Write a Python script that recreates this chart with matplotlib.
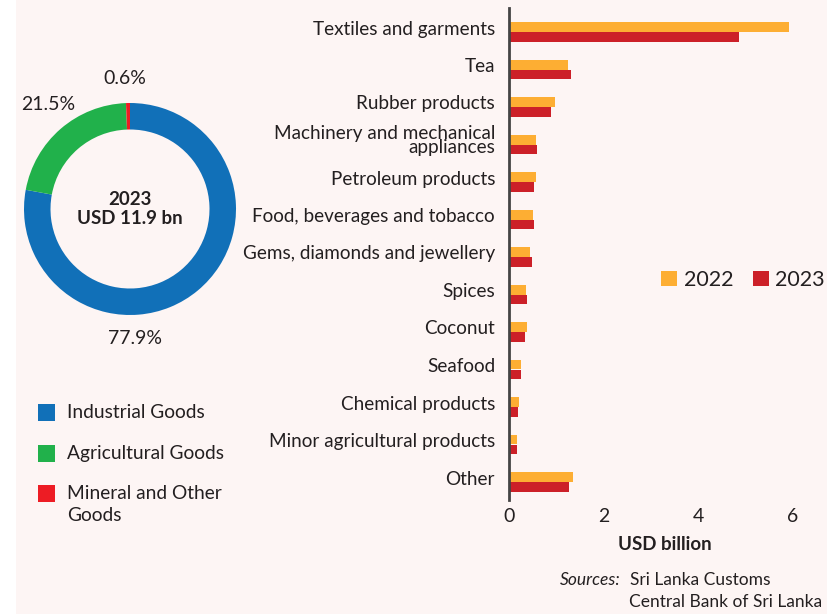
import numpy as np
import matplotlib.pyplot as plt
from matplotlib.patches import Rectangle

plt.rcParams['font.family'] = ['Lato', 'DejaVu Sans']

# export composition, 2023
groups = ["Industrial Goods", "Agricultural Goods", "Mineral and Other\nGoods"]
group_share = [77.9, 21.5, 0.6]
group_colors = ["#1170B8", "#21B14B", "#ED1C24"]

# exports by product, USD billion
products = ["Textiles and garments", "Tea", "Rubber products",
            "Machinery and mechanical\nappliances", "Petroleum products",
            "Food, beverages and tobacco", "Gems, diamonds and jewellery",
            "Spices", "Coconut", "Seafood", "Chemical products",
            "Minor agricultural products", "Other"]
exp_2022 = [5.92, 1.25, 0.97, 0.57, 0.56, 0.51, 0.44, 0.36, 0.39, 0.26, 0.22, 0.16, 1.35]
exp_2023 = [4.86, 1.30, 0.89, 0.59, 0.53, 0.53, 0.49, 0.39, 0.33, 0.25, 0.19, 0.17, 1.27]
xticks = [0, 2, 4, 6]

bg = "#FDF5F4"
txt = "#231F20"
W, H = 827, 614

fig = plt.figure(figsize=(W / 100, H / 100), dpi=100, facecolor=bg)
fig.patches.append(Rectangle((0, 0), 16 / W, 1, transform=fig.transFigure,
                             facecolor="white", edgecolor="none", zorder=0))

# donut
r = 106
axd = fig.add_axes([(130 - r) / W, (H - 209 - r) / H, 2 * r / W, 2 * r / H])
axd.pie(group_share, colors=group_colors, startangle=90, counterclock=False,
        wedgeprops=dict(width=0.25, edgecolor="none"))
axd.set_xlim(-1, 1)
axd.set_ylim(-1, 1)
axd.set_aspect("equal")
axd.text(0, 0, "2023\nUSD 11.9 bn", ha="center", va="center", fontsize=13.5,
         fontweight="bold", color=txt, linespacing=1.1)

def fpos(x, y):
    return x / W, 1 - y / H

for s, (x, y) in zip(group_share, [(135, 338), (48, 105), (125, 78)]):
    fig.text(*fpos(x, y), f"{s}%", ha="center", va="center", fontsize=14, color=txt)

# legend for the donut
for lab, col, y in zip(groups, group_colors, [413, 454, 494]):
    fig.patches.append(Rectangle(fpos(38, y + 8), 17 / W, 17 / H, transform=fig.transFigure,
                                 facecolor=col, edgecolor="none"))
    fig.text(*fpos(67, y - 9), lab, ha="left", va="top", fontsize=13.8, color=txt,
             linespacing=1.35)

# bar chart
ax = fig.add_axes([509 / W, (H - 500) / H, (W - 509) / W, 492 / H])
ax.set_facecolor(bg)
y = np.arange(len(products))
h = 0.26
ax.barh(y - h / 2, exp_2022, height=h, color="#FDAE33", label="2022")
ax.barh(y + h / 2, exp_2023, height=h, color="#CC2028", label="2023")
ax.set_ylim(12.48, -0.64)
ax.set_xlim(0, 6.72)
# category names sit slightly above the bar pair
ax.set_yticks(y - 0.12)
ax.set_yticklabels(products, fontsize=13.6, color=txt, linespacing=0.85)
ax.set_xticks(xticks)
ax.set_xticklabels([str(t) for t in xticks], fontsize=14, color=txt)
ax.tick_params(axis="both", length=0)
ax.tick_params(axis="y", pad=10)
ax.tick_params(axis="x", pad=6)
for side in ["top", "right", "bottom"]:
    ax.spines[side].set_visible(False)
ax.spines["left"].set_color("#444444")
ax.spines["left"].set_linewidth(2)
ax.set_xlabel("USD billion", fontsize=13.5, fontweight="bold", color=txt, labelpad=2)
ax.xaxis.set_label_coords(156 / (W - 509), -36 / 492)
ax.legend(loc="center", bbox_to_anchor=(743 / W, 1 - 280 / H), bbox_transform=fig.transFigure,
          ncol=2, frameon=False, fontsize=15.5, handlelength=0.75, handleheight=0.75,
          handletextpad=0.3, columnspacing=0.9, labelcolor=txt)

# sources
fig.text(*fpos(560, 580), "Sources:", style="italic", ha="left", va="center",
         fontsize=12.5, color=txt)
fig.text(*fpos(630, 580), "Sri Lanka Customs", ha="left", va="center",
         fontsize=12.5, color=txt)
fig.text(*fpos(629, 602), "Central Bank of Sri Lanka", ha="left", va="center",
         fontsize=12.5, color=txt)

fig.savefig("out.png", dpi=100, facecolor=bg)
